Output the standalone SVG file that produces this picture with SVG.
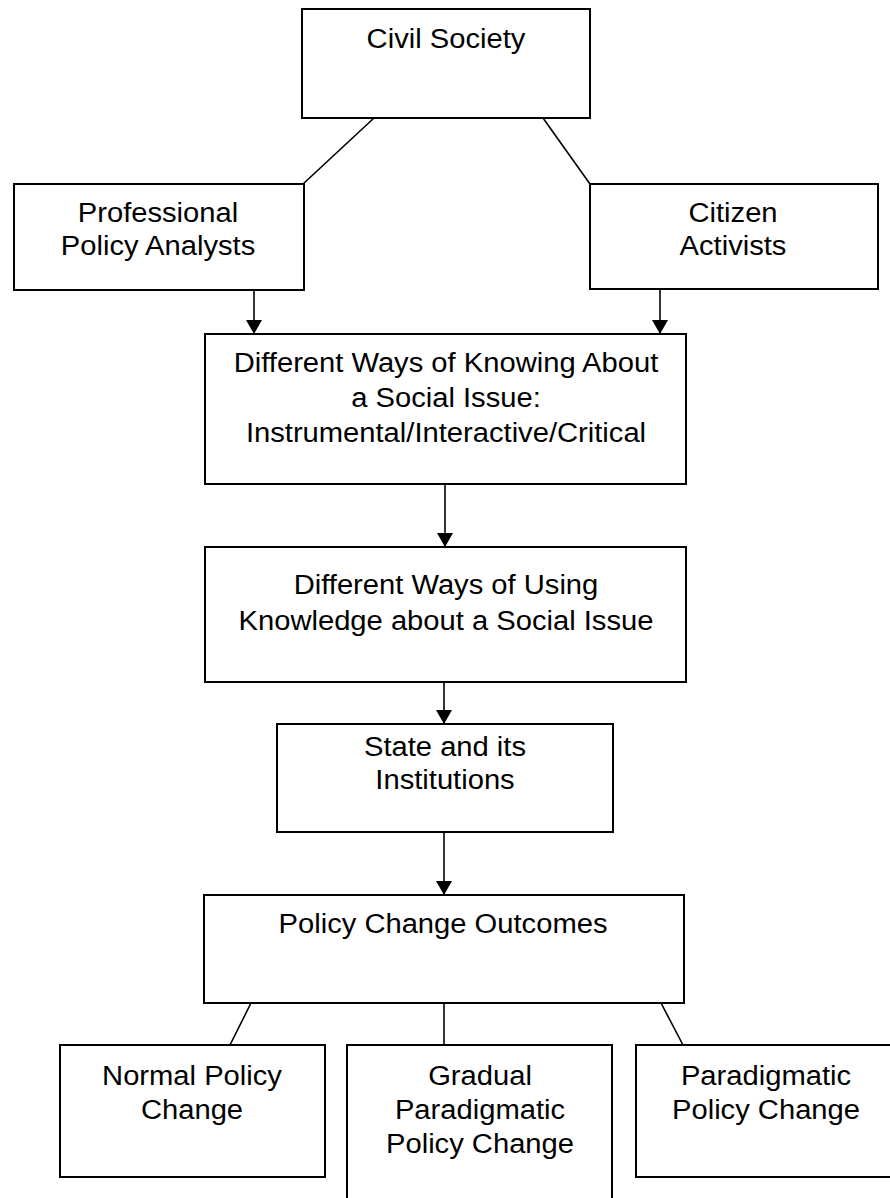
<svg xmlns="http://www.w3.org/2000/svg" width="890" height="1198" viewBox="0 0 890 1198">
<style>
.box{fill:#fff;stroke:#000;stroke-width:2}
.t{font-family:"Liberation Sans",Arial,sans-serif;font-size:27px;fill:#000;text-anchor:middle}
.c{stroke:#000;stroke-width:1.6;fill:none}
</style>
<defs>
<marker id="ah" markerUnits="userSpaceOnUse" markerWidth="14" markerHeight="16" refX="14" refY="8" orient="auto">
<path d="M0,0 L14,8 L0,16 z" fill="#000"/>
</marker>
</defs>
<rect width="890" height="1198" fill="#fff"/>
<g id="connectors">
<line class="c" x1="374" y1="118" x2="303" y2="184"/>
<line class="c" x1="543" y1="118" x2="590" y2="184"/>
<line class="c" x1="254" y1="290" x2="254" y2="334" marker-end="url(#ah)"/>
<line class="c" x1="660" y1="289" x2="660" y2="334" marker-end="url(#ah)"/>
<line class="c" x1="445" y1="484" x2="445" y2="547" marker-end="url(#ah)"/>
<line class="c" x1="444" y1="682" x2="444" y2="724" marker-end="url(#ah)"/>
<line class="c" x1="444" y1="832" x2="444" y2="895" marker-end="url(#ah)"/>
<line class="c" x1="251" y1="1003" x2="230" y2="1045"/>
<line class="c" x1="444" y1="1003" x2="444" y2="1045"/>
<line class="c" x1="661" y1="1003" x2="683" y2="1045"/>
</g>
<g id="civil">
<rect class="box" x="302" y="9" width="288" height="109"/>
<text class="t" transform="translate(446 0) scale(1.08 1)" x="0" y="48">Civil Society</text>
</g>
<g id="analysts">
<rect class="box" x="14" y="184" width="290" height="106"/>
<text class="t" transform="translate(158 0) scale(1.08 1)"><tspan x="0" y="222">Professional</tspan><tspan x="0" y="255">Policy Analysts</tspan></text>
</g>
<g id="activists">
<rect class="box" x="590" y="184" width="288" height="105"/>
<text class="t" transform="translate(733 0) scale(1.08 1)"><tspan x="0" y="222">Citizen</tspan><tspan x="0" y="255">Activists</tspan></text>
</g>
<g id="knowing">
<rect class="box" x="205" y="334" width="481" height="150"/>
<text class="t" transform="translate(446 0) scale(1.08 1)"><tspan x="0" y="372">Different Ways of Knowing About</tspan><tspan x="0" y="407">a Social Issue:</tspan><tspan x="0" y="442">Instrumental/Interactive/Critical</tspan></text>
</g>
<g id="using">
<rect class="box" x="205" y="547" width="481" height="135"/>
<text class="t" transform="translate(446 0) scale(1.08 1)"><tspan x="0" y="594">Different Ways of Using</tspan><tspan x="0" y="630">Knowledge about a Social Issue</tspan></text>
</g>
<g id="state">
<rect class="box" x="277" y="724" width="336" height="108"/>
<text class="t" transform="translate(445 0) scale(1.08 1)"><tspan x="0" y="756">State and its</tspan><tspan x="0" y="789">Institutions</tspan></text>
</g>
<g id="outcomes">
<rect class="box" x="204" y="895" width="480" height="108"/>
<text class="t" transform="translate(443 0) scale(1.08 1)" x="0" y="933">Policy Change Outcomes</text>
</g>
<g id="normal">
<rect class="box" x="60" y="1045" width="265" height="132"/>
<text class="t" transform="translate(192 0) scale(1.08 1)"><tspan x="0" y="1085">Normal Policy</tspan><tspan x="0" y="1119">Change</tspan></text>
</g>
<g id="gradual">
<rect class="box" x="347" y="1045" width="265" height="170"/>
<text class="t" transform="translate(480 0) scale(1.08 1)"><tspan x="0" y="1085">Gradual</tspan><tspan x="0" y="1119">Paradigmatic</tspan><tspan x="0" y="1153">Policy Change</tspan></text>
</g>
<g id="paradigmatic">
<rect class="box" x="636" y="1045" width="262" height="132"/>
<text class="t" transform="translate(766 0) scale(1.08 1)"><tspan x="0" y="1085">Paradigmatic</tspan><tspan x="0" y="1119">Policy Change</tspan></text>
</g>
</svg>
